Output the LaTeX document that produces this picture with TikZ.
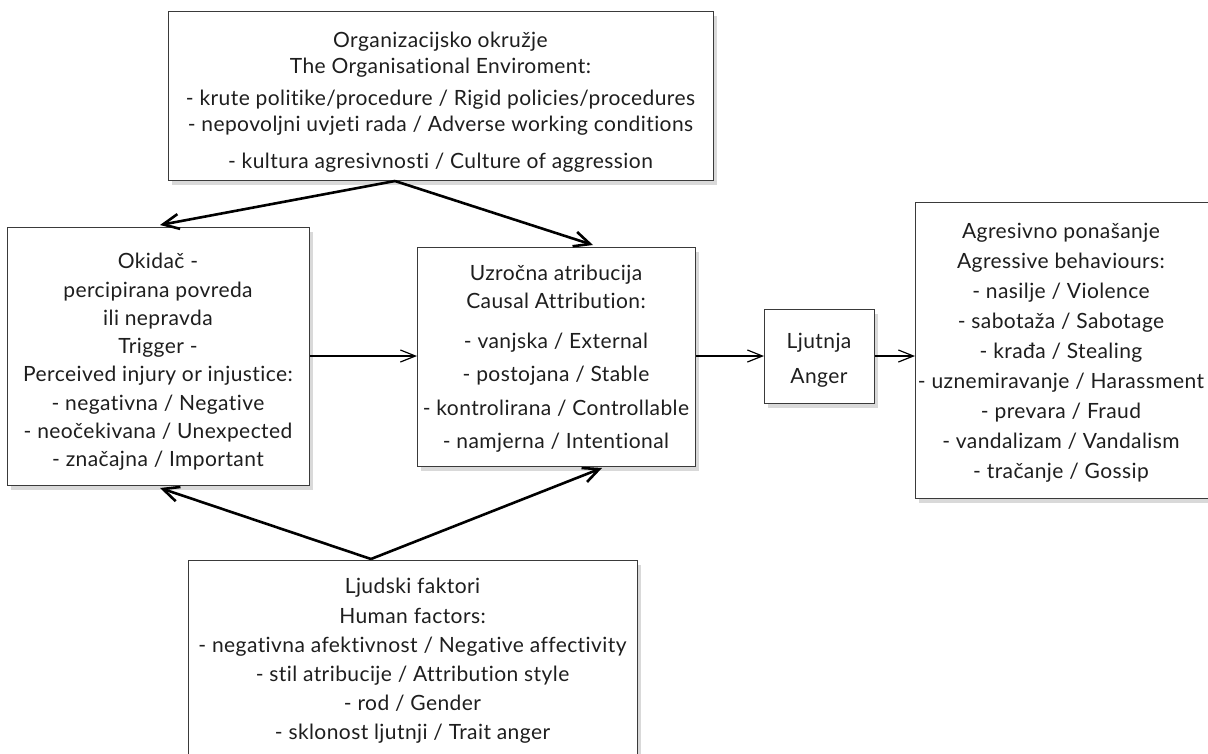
\documentclass[tikz,border=0pt]{standalone}
\usepackage{fontspec}
\setmainfont{Lato}[LetterSpace=2, RawFeature={-liga;-clig;-calt;-dlig;-rlig}]
\usetikzlibrary{arrows.meta,shadows}
\definecolor{boxline}{HTML}{3A3A3A}
\definecolor{txt}{HTML}{1E1E1E}
\begin{document}
\begin{tikzpicture}[x=1pt,y=-1pt,
  box/.style={draw=boxline, line width=1.3pt, fill=white,
    inner sep=0pt, anchor=north west,
    drop shadow={shadow xshift=3pt, shadow yshift=-4pt, opacity=0.15, fill=black}},
  label text/.style={text=txt, align=center, inner sep=0pt},
  thick arrow/.style={draw=black, line width=2.6pt, -{Straight Barb[length=16pt,width=15pt]}},
  thin arrow/.style={draw=black, line width=1.2pt, -{Straight Barb[length=15pt,width=12pt]}}]
\useasboundingbox (0,0) rectangle (1208,753);
\clip (0,0) rectangle (1208,753);

% boxes
\node[box, minimum width=545pt, minimum height=169pt] (org) at (168,11) {};
\node[box, minimum width=302pt, minimum height=258pt] (trig) at (7,227) {};
\node[box, minimum width=278pt, minimum height=219pt] (caus) at (417,247) {};
\node[box, minimum width=110pt, minimum height=94pt] (anger) at (764,309) {};
\node[box, minimum width=294pt, minimum height=296pt] (beh) at (915,202) {};
\node[box, minimum width=449pt, minimum height=200pt] (hum) at (188,560) {};

% texts
\node[label text, font=\fontsize{21}{26}\selectfont] (orgtext) at (440.5,102)
  {Organizacijsko okružje\\
   The Organisational Enviroment:\\[6pt]
   - krute politike/procedure / Rigid policies/procedures\\
   - nepovoljni uvjeti rada / Adverse working conditions\\[11pt]
   - kultura agresivnosti / Culture of aggression};

\node[label text, font=\fontsize{21}{28.3}\selectfont] (trigtext) at (158,362)
  {Okidač -\\ percipirana povreda\\ ili nepravda\\ Trigger -\\
   Perceived injury or injustice:\\ - negativna / Negative\\
   - neočekivana / Unexpected\\ - značajna / Important};

\node[label text, font=\fontsize{21}{28}\selectfont] (caustext) at (556,359)
  {Uzročna atribucija\\ Causal Attribution:\\[12pt]
   - vanjska / External\\[5pt] - postojana / Stable\\[6pt]
   - kontrolirana / Controllable\\[5pt] - namjerna / Intentional};

\node[label text, font=\fontsize{21}{35}\selectfont] (angertext) at (819,360)
  {Ljutnja\\ Anger};

\node[label text, font=\fontsize{21}{30}\selectfont] (behtext) at (1061,353)
  {Agresivno ponašanje\\ Agressive behaviours:\\ - nasilje / Violence\\
   - sabotaža / Sabotage\\ - krađa / Stealing\\ - uznemiravanje / Harassment\\
   - prevara / Fraud\\ - vandalizam / Vandalism\\ - tračanje / Gossip};

\node[label text, font=\fontsize{21}{29.2}\selectfont] (humtext) at (412.5,661)
  {Ljudski faktori\\ Human factors:\\ - negativna afektivnost / Negative affectivity\\
   - stil atribucije / Attribution style\\ - rod / Gender\\
   - sklonost ljutnji / Trait anger};

% connectors
\coordinate (otop) at (395,181);
\coordinate (hbot) at (371,559);
\coordinate (t1) at (160,225);
\coordinate (t2) at (593,245);
\coordinate (t3) at (160,488);
\coordinate (t4) at (602,468);

\draw[thick arrow] (otop) -- (t1);
\draw[thick arrow] (otop) -- (t2);
\draw[thick arrow] (hbot) -- (t3);
\draw[thick arrow] (hbot) -- (t4);

\draw[thin arrow] (trig.east |- 0,356) -- (caus.west |- 0,356);
\draw[thin arrow] (caus.east |- 0,356) -- (anger.west |- 0,356);
\draw[thin arrow] (anger.east |- 0,356) -- (beh.west |- 0,356);
\end{tikzpicture}
\end{document}
